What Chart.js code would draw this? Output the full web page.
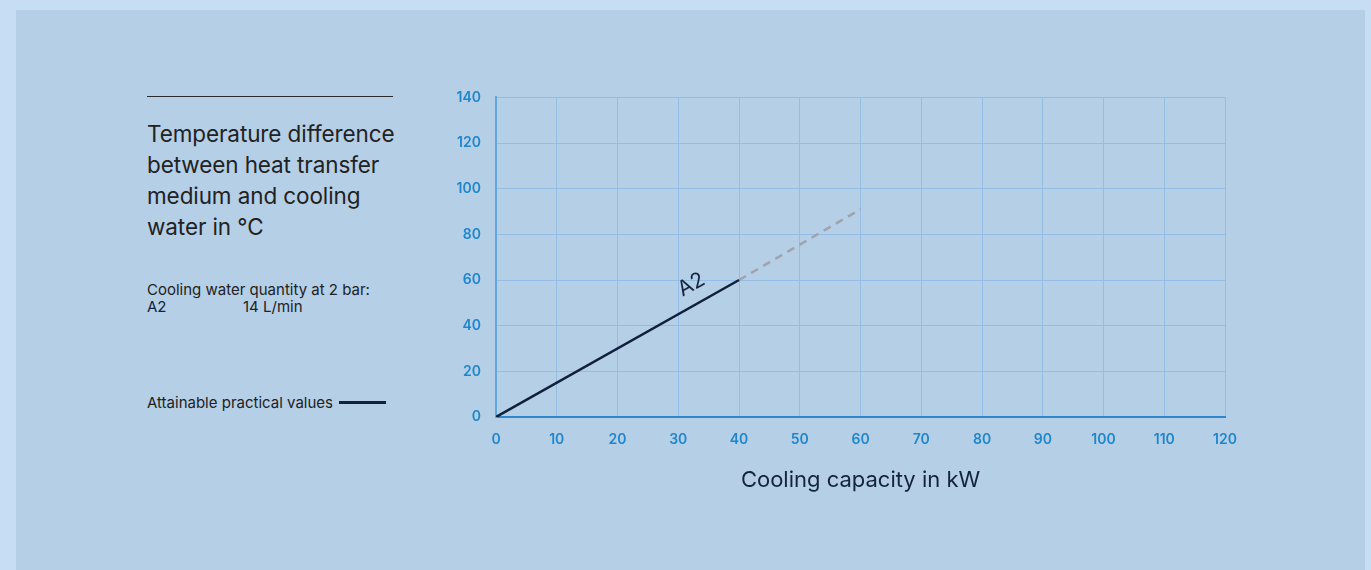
<!DOCTYPE html>
<html>
<head>
<meta charset="utf-8">
<script src="https://cdn.jsdelivr.net/npm/chart.js@4"></script>
<style>
    body { margin: 0; background: #c6ddf3; font-family: Inter, "Liberation Sans", sans-serif; }
    #panel { position: absolute; left: 16px; top: 10px; width: 1349px; height: 560px; background: #b4cfe6; }
    #rule { position: absolute; left: 147px; top: 96px; width: 246px; height: 0; border-top: 1px solid #2a2a2a; }
    #title { position: absolute; left: 147px; top: 118px; width: 270px; font-size: 22.5px; line-height: 31px; color: #222; letter-spacing: -0.1px; }
    #note { position: absolute; left: 147px; top: 281px; font-size: 15px; line-height: 17px; color: #222; letter-spacing: 0; }
    #note .val { position: absolute; left: 96px; white-space: nowrap; }
    #legend { position: absolute; left: 147px; top: 393px; font-size: 15px; color: #222; letter-spacing: 0; white-space: nowrap; }
    #legend span { display: inline-block; width: 47px; height: 0; border-top: 3px solid #0f2240; vertical-align: middle; margin-left: 6px; margin-top: -3px; }
    #wrap { position: absolute; left: 440px; top: 74px; width: 811px; height: 424px; }
</style>
</head>
<body>
<div id="panel"></div>
<div id="rule"></div>
<div id="title">Temperature difference between heat transfer medium and cooling water in °C</div>
<div id="note">Cooling water quantity at 2 bar:<br><span style="color:#14233f">A2</span><span class="val">14 L/min</span></div>
<div id="legend">Attainable practical values<span></span></div>
<div id="wrap"><canvas id="chart"></canvas></div>
<script>
const solidX = [0, 40];
const solidY = [0, 60];
const dashedX = [40, 60];
const dashedY = [60, 91];
const xTicks = [0, 10, 20, 30, 40, 50, 60, 70, 80, 90, 100, 110, 120];
const yTicks = [0, 20, 40, 60, 80, 100, 120, 140];
const curveLabel = 'A2';
const labelAt = [33, 54];

const toPoints = (xs, ys) => xs.map((x, i) => ({ x: x, y: ys[i] }));

const curveLabelPlugin = {
    id: 'curveLabel',
    afterDatasetsDraw(chart) {
        const ctx = chart.ctx;
        const xs = chart.scales.x, ys = chart.scales.y;
        const px = xs.getPixelForValue(labelAt[0]);
        const py = ys.getPixelForValue(labelAt[1]);
        const p0 = { x: xs.getPixelForValue(solidX[0]), y: ys.getPixelForValue(solidY[0]) };
        const p1 = { x: xs.getPixelForValue(solidX[1]), y: ys.getPixelForValue(solidY[1]) };
        const angle = Math.atan2(p1.y - p0.y, p1.x - p0.x);
        ctx.save();
        ctx.translate(px, py);
        ctx.rotate(angle);
        ctx.fillStyle = '#14233f';
        ctx.font = '21px Inter, "Liberation Sans", sans-serif';
        ctx.textAlign = 'center';
        ctx.textBaseline = 'bottom';
        ctx.fillText(curveLabel, 0, 0);
        ctx.restore();
    }
};

const tickFont = { family: 'Inter, "Liberation Sans", sans-serif', size: 14, weight: '600' };

new Chart(document.getElementById('chart'), {
    type: 'line',
    data: {
        datasets: [{
            data: toPoints(solidX, solidY),
            borderColor: '#0f1f3d',
            borderWidth: 2.5,
            pointRadius: 0
        }, {
            data: toPoints(dashedX, dashedY),
            borderColor: '#a0a3ae',
            borderWidth: 2.5,
            borderDash: [8, 6],
            pointRadius: 0
        }]
    },
    options: {
        responsive: true,
        maintainAspectRatio: false,
        animation: false,
        layout: { padding: { top: 10, right: 15 } },
        plugins: { legend: { display: false }, tooltip: { enabled: false } },
        scales: {
            x: {
                type: 'linear',
                min: 0,
                max: 120,
                afterBuildTicks: (s) => { s.ticks = xTicks.map(v => ({ value: v })); },
                afterFit: (s) => { s.height = 81; },
                grid: { color: '#93bde5', lineWidth: 1, drawTicks: false },
                border: { color: '#2f86c8', width: 2 },
                ticks: { color: '#1f86cc', font: tickFont, padding: 14, maxRotation: 0 },
                title: {
                    display: true,
                    text: 'Cooling capacity in kW',
                    color: '#14233f',
                    font: { family: 'Inter, "Liberation Sans", sans-serif', size: 22 },
                    padding: { top: 18 }
                }
            },
            y: {
                min: 0,
                max: 140,
                afterBuildTicks: (s) => { s.ticks = yTicks.map(v => ({ value: v })); },
                afterFit: (s) => { s.width = 56; },
                grid: { color: '#93bde5', lineWidth: 1, drawTicks: false },
                border: { color: '#62a5dc', width: 2 },
                ticks: { color: '#1f86cc', font: tickFont, padding: 15 }
            }
        }
    },
    plugins: [curveLabelPlugin]
});
</script>
</body>
</html>
